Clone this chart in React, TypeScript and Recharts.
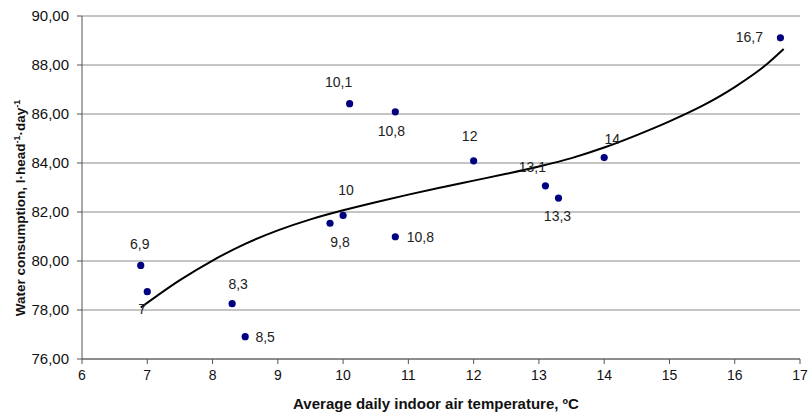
import { ComposedChart, Scatter, Line, XAxis, YAxis, CartesianGrid } from 'recharts'

// measured points: indoor temperature (ºC) vs water consumption
const temps = [6.9, 7, 8.3, 8.5, 9.8, 10, 10.1, 10.8, 10.8, 12, 13.1, 13.3, 14, 16.7]
const consumption = [79.82, 78.75, 78.26, 76.91, 81.54, 81.86, 86.42, 86.09, 80.99, 84.09, 83.07, 82.57, 84.22, 89.11]
const pointLabels = ['6,9', '7', '8,3', '8,5', '9,8', '10', '10,1', '10,8', '10,8', '12', '13,1', '13,3', '14', '16,7']

// trend curve
const trendX = [6.9, 7.5, 8, 8.5, 9, 9.5, 10, 10.5, 11, 11.5, 12, 12.5, 13, 13.5, 14, 14.5, 15, 15.5, 16, 16.5, 16.75]
const trendY = [78.1, 79.22, 80.02, 80.7, 81.25, 81.7, 82.07, 82.4, 82.71, 83.0, 83.28, 83.56, 83.86, 84.2, 84.63, 85.14, 85.7, 86.33, 87.1, 88.05, 88.65]

const xTicks = [6, 7, 8, 9, 10, 11, 12, 13, 14, 15, 16, 17]
const yTicks = [76, 78, 80, 82, 84, 86, 88, 90]

const FONT = '"Liberation Sans", Arial, sans-serif'

// where each point label sits relative to its dot
const labelOffsets: [number, number][] = [
  [-1, -16], [-5, 22], [6, -15], [20, 5], [10, 24], [3, -20], [-11, -17],
  [-4, 24], [25, 5], [-4, -20], [-13, -14], [-1, 23], [8, -14], [-31, 4],
]

const points = temps.map((t, i) => ({ x: t, y: consumption[i], label: pointLabels[i], idx: i }))
const trend = trendX.map((t, i) => ({ x: t, y: trendY[i] }))

function Dot(props: any) {
  const { cx, cy, payload } = props
  const [dx, dy] = labelOffsets[payload.idx] ?? [0, -12]
  return (
    <g>
      <circle cx={cx} cy={cy} r={3.6} fill="#000080" />
      <text x={cx + dx} y={cy + dy} textAnchor="middle" fontSize={14} fontFamily={FONT} fill="#222">
        {payload.label}
      </text>
    </g>
  )
}

const fmtY = (v: number) => v.toFixed(2).replace('.', ',')

export default function App() {
  return (
    <div style={{ position: 'absolute', left: 0, top: 0, background: '#fff' }}>
      <ComposedChart width={810} height={416} margin={{ top: 16, right: 10, bottom: 27, left: 0 }}>
        <CartesianGrid horizontal vertical={false} stroke="#8a8a8a" strokeWidth={1} />
        <XAxis
          type="number"
          dataKey="x"
          domain={[6, 17]}
          ticks={xTicks}
          interval={0}
          allowDataOverflow
          stroke="#555"
          tickSize={5}
          tick={{ fontSize: 14, fontFamily: FONT, fill: '#111' }}
          tickMargin={6}
          label={() => (
            <text x={436} y={409} textAnchor="middle" fontSize={15} fontWeight="bold" fontFamily={FONT} fill="#111">
              Average daily indoor air temperature, ºC
            </text>
          )}
        />
        <YAxis
          type="number"
          dataKey="y"
          domain={[76, 90]}
          ticks={yTicks}
          interval={0}
          width={82}
          stroke="#555"
          tickSize={5}
          tickMargin={8}
          tickFormatter={fmtY}
          tick={{ fontSize: 15, fontFamily: FONT, fill: '#111' }}
          label={() => (
            <text
              transform="translate(25,208) rotate(-90)"
              textAnchor="middle"
              fontSize={13.5}
              fontWeight="bold"
              fontFamily={FONT}
              fill="#111"
            >
              Water consumption, l·head<tspan dy={-5} fontSize={9}>-1</tspan>
              <tspan dy={5}>·day</tspan>
              <tspan dy={-5} fontSize={9}>-1</tspan>
            </text>
          )}
        />
        <Line
          data={trend}
          dataKey="y"
          type="monotone"
          stroke="#000"
          strokeWidth={2}
          dot={false}
          activeDot={false}
          isAnimationActive={false}
        />
        <Scatter data={points} dataKey="y" shape={<Dot />} isAnimationActive={false} />
      </ComposedChart>
    </div>
  )
}
